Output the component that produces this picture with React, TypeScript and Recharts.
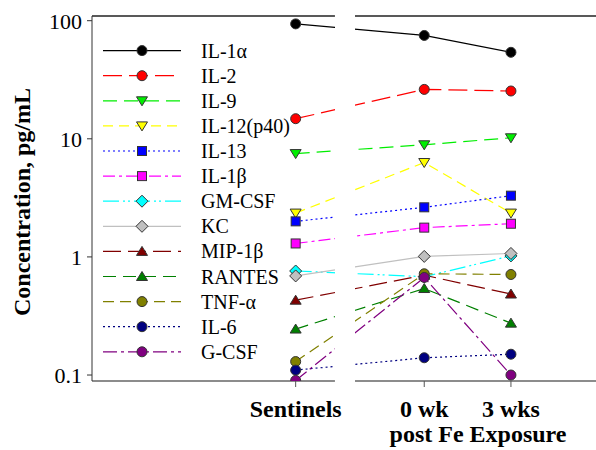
import React from "react";
import { LineChart, Line, XAxis, YAxis, ReferenceLine, Customized } from "recharts";

// groups on the x axis and where they sit (0 wk / 3 wks are one unit apart)
const CATEGORIES = ["Sentinels", "0 wk", "3 wks"];
const CATEGORY_X = [0, 1.483, 2.483];
const X_DOMAIN = [-2.349, 3.464];
const X_BREAK = [0.453, 0.684];

const Y_TICKS = [0.1, 1, 10, 100];
const Y_DOMAIN = [0.089, 109.6];

// concentrations, pg/mL (Sentinels, 0 wk, 3 wks)
const IL1A = [94, 75, 54];
const IL2 = [14.8, 26.2, 25.4];
const IL9 = [7.5, 8.9, 10.2];
const IL12 = [2.35, 6.3, 2.35];
const IL13 = [2.0, 2.63, 3.3];
const IL1B = [1.3, 1.77, 1.91];
const GMCSF = [0.76, 0.68, 1.02];
const KC = [0.69, 1.01, 1.07];
const MIP1B = [0.43, 0.7, 0.485];
const RANTES = [0.245, 0.54, 0.275];
const TNFA = [0.13, 0.72, 0.71];
const IL6 = [0.11, 0.14, 0.15];
const GCSF = [0.09, 0.67, 0.1];

type MarkerKind = "circle" | "triDown" | "triUp" | "square" | "diamond";

interface SeriesDef {
  name: string;
  values: number[];
  color: string;
  dash?: string;
  marker: MarkerKind;
}

const SERIES: SeriesDef[] = [
  { name: "IL-1α", values: IL1A, color: "#000000", marker: "circle" },
  { name: "IL-2", values: IL2, color: "#ff0000", dash: "19 7", marker: "circle" },
  { name: "IL-9", values: IL9, color: "#00ee00", dash: "14 7", marker: "triDown" },
  { name: "IL-12(p40)", values: IL12, color: "#ffff00", dash: "10 6", marker: "triDown" },
  { name: "IL-13", values: IL13, color: "#0000ff", dash: "2 3", marker: "square" },
  { name: "IL-1β", values: IL1B, color: "#ff00ff", dash: "12 4 3 4", marker: "square" },
  { name: "GM-CSF", values: GMCSF, color: "#00ffff", dash: "16 4 2 3 2 4", marker: "diamond" },
  { name: "KC", values: KC, color: "#c0c0c0", marker: "diamond" },
  { name: "MIP-1β", values: MIP1B, color: "#800000", dash: "18 7", marker: "triUp" },
  { name: "RANTES", values: RANTES, color: "#008000", dash: "13 7", marker: "triUp" },
  { name: "TNF-α", values: TNFA, color: "#808000", dash: "11 6", marker: "circle" },
  { name: "IL-6", values: IL6, color: "#000080", dash: "2 3", marker: "circle" },
  { name: "G-CSF", values: GCSF, color: "#800080", dash: "14 4 3 4", marker: "circle" },
];

const rows = CATEGORIES.map((cat, i) => {
  const row: Record<string, number | string> = { cat, x: CATEGORY_X[i] };
  SERIES.forEach((s) => (row[s.name] = s.values[i]));
  return row;
});

const FONT = "'Times New Roman', 'Liberation Serif', Tinos, serif";
const EDGE = "#333333";

function Marker({ cx, cy, kind, fill }: { cx: number; cy: number; kind: MarkerKind; fill: string }) {
  if (cx == null || cy == null) return null;
  const common = { fill, stroke: EDGE, strokeWidth: 1 };
  switch (kind) {
    case "circle":
      return <circle cx={cx} cy={cy} r={5} {...common} />;
    case "square":
      return <rect x={cx - 4.5} y={cy - 4.5} width={9} height={9} {...common} />;
    case "triDown":
      return <polygon points={`${cx - 5.5},${cy - 4} ${cx + 5.5},${cy - 4} ${cx},${cy + 5}`} {...common} />;
    case "triUp":
      return <polygon points={`${cx - 5.5},${cy + 4} ${cx + 5.5},${cy + 4} ${cx},${cy - 5}`} {...common} />;
    case "diamond":
      return <polygon points={`${cx},${cy - 6} ${cx + 6},${cy} ${cx},${cy + 6} ${cx - 6},${cy}`} {...common} />;
  }
  return null;
}

function XTick(props: any) {
  const { x, y, payload } = props;
  const idx = CATEGORY_X.indexOf(payload.value);
  return (
    <text x={x} y={y + 28} textAnchor="middle" fontFamily={FONT} fontSize={24} fontWeight="bold" fill="#000">
      {CATEGORIES[idx]}
    </text>
  );
}

// axis-break clip for the data lines, the legend and the shared titles
function Extras(props: any) {
  const xScale = props.xAxisMap ? (Object.values(props.xAxisMap)[0] as any)?.scale : null;
  const b0 = xScale ? xScale(X_BREAK[0]) : 335;
  const b1 = xScale ? xScale(X_BREAK[1]) : 355;
  return (
    <g>
      <defs>
        <clipPath id="axis-break" clipPathUnits="userSpaceOnUse">
          <rect x={0} y={0} width={b0} height={450} />
          <rect x={b1} y={0} width={600} height={450} />
        </clipPath>
      </defs>
      <style>{`.recharts-line-curve { clip-path: url(#axis-break); }`}</style>
      <g fontFamily={FONT} fontSize={20} fill="#000">
        {SERIES.map((s, i) => {
          const y = 50.6 + i * 25.1;
          return (
            <g key={s.name}>
              <line x1={103} x2={181} y1={y} y2={y} stroke={s.color} strokeWidth={1.2} strokeDasharray={s.dash} />
              <Marker cx={142} cy={y} kind={s.marker} fill={s.color} />
              <text x={201} y={y + 7}>{s.name}</text>
            </g>
          );
        })}
      </g>
      <text x={478} y={442} textAnchor="middle" fontFamily={FONT} fontSize={24} fontWeight="bold" fill="#000">
        post Fe Exposure
      </text>
      <text
        x={30}
        y={202}
        transform="rotate(-90 30 202)"
        textAnchor="middle"
        fontFamily={FONT}
        fontSize={24}
        fontWeight="bold"
        fill="#000"
      >
        Concentration, pg/mL
      </text>
    </g>
  );
}

export default function App() {
  return (
    <div style={{ position: "absolute", left: 0, top: 0, width: 596, height: 450, background: "#fff" }}>
      <LineChart width={596} height={450} data={rows} margin={{ top: 16, right: 0, bottom: 0, left: 0 }}>
        <XAxis
          dataKey="x"
          type="number"
          domain={X_DOMAIN}
          ticks={CATEGORY_X}
          allowDataOverflow
          height={69}
          axisLine={false}
          stroke="#555"
          tickSize={6}
          tick={<XTick />}
        />
        <YAxis
          type="number"
          scale="log"
          domain={Y_DOMAIN}
          ticks={Y_TICKS}
          allowDataOverflow
          width={92}
          stroke="#333"
          tickSize={5}
          tickMargin={5}
          tickFormatter={(v: number) => String(v)}
          tick={{ fontFamily: FONT, fontSize: 22, fill: "#000" }}
        />
        {/* top and bottom frame, each split at the axis break */}
        <ReferenceLine segment={[{ x: X_DOMAIN[0], y: Y_DOMAIN[1] }, { x: X_BREAK[0], y: Y_DOMAIN[1] }]} stroke="#222" strokeWidth={1.3} />
        <ReferenceLine segment={[{ x: X_BREAK[1], y: Y_DOMAIN[1] }, { x: X_DOMAIN[1], y: Y_DOMAIN[1] }]} stroke="#222" strokeWidth={1.3} />
        <ReferenceLine segment={[{ x: X_DOMAIN[0], y: Y_DOMAIN[0] }, { x: X_BREAK[0], y: Y_DOMAIN[0] }]} stroke="#666" strokeWidth={1.3} />
        <ReferenceLine segment={[{ x: X_BREAK[1], y: Y_DOMAIN[0] }, { x: X_DOMAIN[1], y: Y_DOMAIN[0] }]} stroke="#666" strokeWidth={1.3} />
        {SERIES.map((s) => (
          <Line
            key={s.name}
            dataKey={s.name}
            stroke={s.color}
            strokeWidth={1.2}
            strokeDasharray={s.dash}
            isAnimationActive={false}
            dot={(p: any) => <Marker key={`${s.name}-${p.index}`} cx={p.cx} cy={p.cy} kind={s.marker} fill={s.color} />}
            activeDot={false}
          />
        ))}
        <Customized component={<Extras />} />
      </LineChart>
    </div>
  );
}
